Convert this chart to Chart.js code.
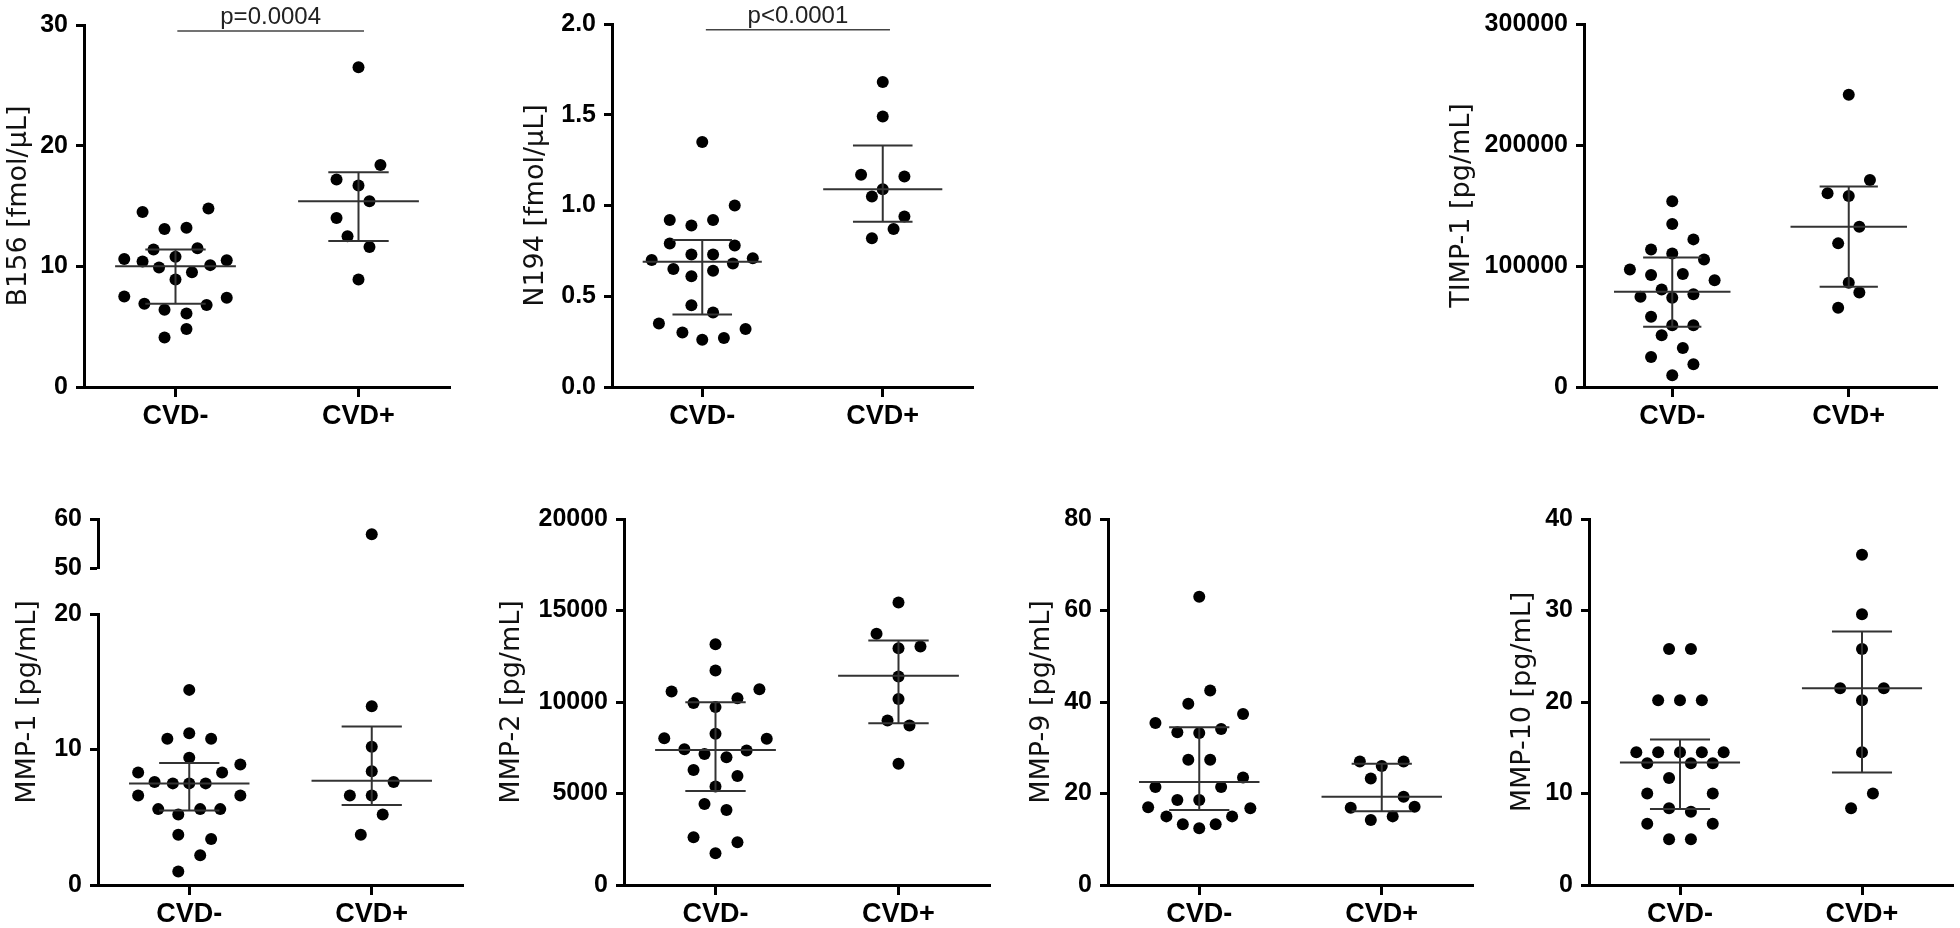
<!DOCTYPE html>
<html lang="en">
<head>
<meta charset="UTF-8">
<title>CVD- vs CVD+ biomarkers</title>
<script src="https://cdn.jsdelivr.net/npm/chart.js@4.4.1/dist/chart.umd.min.js"></script>
<style>
*{margin:0;padding:0;box-sizing:border-box}
html,body{width:1960px;height:928px;background:#fff;overflow:hidden}
canvas{position:absolute}
</style>
</head>
<body>
<canvas id="b156"></canvas>
<canvas id="n194"></canvas>
<canvas id="timp1"></canvas>
<canvas id="mmp1"></canvas>
<canvas id="mmp1top"></canvas>
<canvas id="mmp2"></canvas>
<canvas id="mmp9"></canvas>
<canvas id="mmp10"></canvas>
<script>
const groups = ['CVD-', 'CVD+'];

// each group: values, horizontal jitter (in category units), [median, q1, q3]
const b156Neg = [14.5, 14.8, 13.1, 13.2, 11.4, 11.5, 10.6, 10.4, 10.8, 10.5, 9.9, 10.1, 8.9, 9.5, 7.5, 7.4, 6.9, 6.8, 6.4, 6.1, 4.8, 4.1];
const b156NegJit = [-0.18, 0.18, -0.06, 0.06, -0.12, 0.12, -0.28, -0.18, 0, 0.28, -0.09, 0.19, 0, 0.09, -0.28, 0.28, -0.17, 0.17, -0.06, 0.06, 0.06, -0.06];
const b156Pos = [26.5, 18.4, 17.2, 16.7, 15.4, 14.0, 12.5, 11.6, 8.9];
const b156PosJit = [0, 0.12, -0.12, 0, 0.06, -0.12, -0.06, 0.06, 0];
const b156Stats = [[10.0, 6.9, 11.4], [15.4, 12.1, 17.8]];

const n194Neg = [1.35, 0.92, 0.92, 0.89, 1.00, 0.79, 0.78, 0.73, 0.73, 0.70, 0.71, 0.65, 0.68, 0.61, 0.64, 0.45, 0.41, 0.35, 0.30, 0.26, 0.27, 0.32];
const n194NegJit = [0, -0.18, 0.06, -0.06, 0.18, -0.18, 0.18, -0.06, 0.06, -0.28, 0.28, -0.16, 0.17, -0.06, 0.06, -0.06, 0.06, -0.24, -0.11, 0, 0.12, 0.24];
const n194Pos = [1.68, 1.49, 1.17, 1.16, 1.09, 1.05, 0.94, 0.87, 0.82];
const n194PosJit = [0, 0, -0.12, 0.12, 0, -0.06, 0.12, 0.06, -0.06];
const n194Stats = [[0.69, 0.40, 0.81], [1.09, 0.91, 1.33]];

const timp1Neg = [153500, 134700, 122000, 113700, 110400, 105400, 97200, 92500, 93300, 88300, 80600, 76700, 74500, 73700, 58000, 51100, 51100, 42800, 32300, 24800, 18800, 9700];
const timp1NegJit = [0, 0, 0.12, -0.12, 0, 0.18, -0.24, -0.12, 0.06, 0.24, -0.06, 0.12, -0.18, 0, -0.12, 0, 0.12, -0.06, 0.06, -0.12, 0.12, 0];
const timp1Pos = [241500, 171100, 160100, 157900, 132500, 118700, 86100, 78100, 65400];
const timp1PosJit = [0, 0.12, -0.12, 0, 0.06, -0.06, 0, 0.06, -0.06];
const timp1Stats = [[78700, 49700, 107100], [132500, 82800, 165600]];

const mmp1Neg = [14.4, 10.8, 11.2, 10.8, 9.4, 8.3, 8.9, 8.3, 7.6, 7.5, 7.5, 7.5, 6.6, 6.6, 5.6, 5.2, 5.6, 5.6, 3.7, 3.4, 2.2, 1.0];
const mmp1NegJit = [0, -0.12, 0, 0.12, 0, -0.28, 0.28, 0.18, -0.19, -0.09, 0, 0.09, -0.28, 0.28, -0.17, -0.06, 0.06, 0.17, -0.06, 0.12, 0.06, -0.06];
const mmp1Pos = [56.9, 13.2, 10.2, 8.4, 7.6, 6.6, 6.6, 5.2, 3.7];
const mmp1PosJit = [0, 0, 0, 0, 0.12, -0.12, 0, 0.06, -0.06];
const mmp1Stats = [[7.5, 5.5, 9.0], [7.7, 5.9, 11.7]];

const mmp2Neg = [13150, 11720, 10570, 10700, 9940, 10210, 9720, 8020, 7990, 8260, 7420, 7160, 6980, 7350, 6290, 5960, 5380, 4430, 4100, 2610, 2330, 1730];
const mmp2NegJit = [0, 0, -0.24, 0.24, -0.12, 0.12, 0, -0.28, 0.28, 0, -0.17, -0.06, 0.06, 0.17, -0.12, 0.12, 0, -0.06, 0.06, -0.12, 0.12, 0];
const mmp2Pos = [15440, 13730, 12940, 13030, 11390, 10170, 8990, 8710, 6620];
const mmp2PosJit = [0, -0.12, 0, 0.12, 0, 0, -0.06, 0.06, 0];
const mmp2Stats = [[7380, 5140, 9990], [11430, 8840, 13360]];

const mmp9Neg = [63.0, 42.5, 39.6, 37.4, 35.4, 33.4, 33.2, 34.1, 27.4, 27.4, 23.5, 21.4, 21.4, 18.6, 18.6, 17.0, 16.8, 15.0, 15.0, 13.3, 13.3, 12.4];
const mmp9NegJit = [0, 0.06, -0.06, 0.24, -0.24, -0.12, 0, 0.12, -0.06, 0.06, 0.24, -0.24, 0.12, -0.12, 0, -0.28, 0.28, -0.18, 0.18, -0.09, 0.09, 0];
const mmp9Pos = [27.0, 26.0, 27.0, 23.3, 19.3, 16.9, 17.1, 15.0, 14.2];
const mmp9PosJit = [-0.12, 0, 0.12, -0.06, 0.12, -0.17, 0.18, 0.06, -0.06];
const mmp9Stats = [[22.5, 16.4, 34.5], [19.3, 16.1, 26.5]];

const mmp10Neg = [25.8, 25.8, 20.2, 20.2, 20.2, 14.5, 14.5, 14.5, 14.5, 14.5, 13.3, 13.3, 13.3, 11.7, 10.0, 10.0, 8.4, 8.0, 6.7, 6.7, 5.0, 5.0];
const mmp10NegJit = [-0.06, 0.06, -0.12, 0, 0.12, -0.24, -0.12, 0, 0.12, 0.24, -0.18, 0.06, 0.18, -0.06, -0.18, 0.18, -0.06, 0.06, -0.18, 0.18, -0.06, 0.06];
const mmp10Pos = [36.1, 29.6, 25.8, 21.5, 21.5, 20.2, 14.5, 10.0, 8.4];
const mmp10PosJit = [0, 0, 0, -0.12, 0.12, 0, 0, 0.06, -0.06];
const mmp10Stats = [[13.4, 8.3, 15.9], [21.5, 12.3, 27.7]];

const FONT = "'Liberation Sans', Arial, Helvetica, sans-serif";
const TITLE_FONT = "'DejaVu Sans', sans-serif";
const TITLE_SIZE = 27;

// significance bar + p-value label above the two groups
const sigBar = {
  id: 'sigBar',
  afterDatasetsDraw(chart, args, o) {
    if (!o || !o.text) return;
    const { ctx, scales: { x, y } } = chart;
    const x1 = x.getPixelForValue(o.from), x2 = x.getPixelForValue(o.to), yy = y.getPixelForValue(o.at);
    ctx.save();
    ctx.strokeStyle = '#444';
    ctx.lineWidth = 1.5;
    ctx.beginPath(); ctx.moveTo(x1, yy); ctx.lineTo(x2, yy); ctx.stroke();
    ctx.fillStyle = '#222';
    ctx.font = '24px ' + FONT;
    ctx.textAlign = 'center';
    ctx.textBaseline = 'alphabetic';
    ctx.fillText(o.text, (x1 + x2) / 2, yy - 7);
    ctx.restore();
  }
};

// y title for the broken MMP-1 axis, centred over both segments
const brokenTitle = {
  id: 'brokenTitle',
  afterDraw(chart, args, o) {
    if (!o || !o.text) return;
    const { ctx, chartArea } = chart;
    ctx.save();
    ctx.translate(o.x, (o.top + chartArea.bottom) / 2);
    ctx.rotate(-Math.PI / 2);
    ctx.font = TITLE_SIZE + 'px ' + TITLE_FONT;
    ctx.fillStyle = '#111';
    ctx.textAlign = 'center';
    ctx.textBaseline = 'middle';
    ctx.fillText(o.text, 0, 0);
    ctx.restore();
  }
};

function dots(vals, jit, g, keep) {
  return {
    type: 'scatter',
    data: vals.map((v, i) => ({ x: g + 1 + jit[i], y: v })).filter(p => !keep || keep(p.y)),
    backgroundColor: '#000', borderWidth: 0, pointRadius: 6, pointHoverRadius: 6,
    clip: false, order: 2
  };
}

function statLines(stats) {
  const sets = [];
  stats.forEach(([med, q1, q3], g) => {
    const c = g + 1;
    [
      [[c - 0.33, med], [c + 0.33, med]],
      [[c, q1], [c, q3]],
      [[c - 0.165, q1], [c + 0.165, q1]],
      [[c - 0.165, q3], [c + 0.165, q3]]
    ].forEach(seg => sets.push({
      type: 'line', data: seg.map(([x, y]) => ({ x, y })),
      borderColor: '#333', borderWidth: 2, pointRadius: 0, fill: false, order: 0
    }));
  });
  return sets;
}

function drawPanel(o) {
  const cv = document.getElementById(o.id);
  const cl = o.tx - 16, cw = o.r + (o.padR || 8) - cl;
  cv.width = cw; cv.height = o.ch;
  cv.style.left = cl + 'px'; cv.style.top = o.ct + 'px';
  const yW = o.l - cl;
  const xH = o.ct + o.ch - o.b;
  new Chart(cv, {
    type: 'scatter',
    data: { datasets: o.datasets },
    options: {
      responsive: false,
      animation: false,
      events: [],
      layout: { padding: { left: 0, top: o.t - o.ct, right: cl + cw - o.r, bottom: o.showX ? 0 : xH } },
      plugins: {
        legend: { display: false },
        tooltip: { enabled: false },
        sigBar: o.sig || false,
        brokenTitle: o.broken || false
      },
      scales: {
        x: {
          type: 'linear', min: 0.5, max: 2.5, display: o.showX,
          afterBuildTicks: s => { s.ticks = groups.map((g, i) => ({ value: i + 1 })); },
          afterFit: s => { s.height = xH; },
          ticks: { callback: v => groups[v - 1], color: '#000', font: { family: FONT, size: 27, weight: 'bold' }, padding: 3, maxRotation: 0, autoSkip: false },
          grid: { display: true, drawOnChartArea: false, drawTicks: true, tickLength: 10, tickWidth: 3, tickColor: '#000' },
          border: { display: true, width: 3, color: '#000' }
        },
        y: {
          type: 'linear', min: o.yMin, max: o.yMax,
          afterFit: s => { s.width = yW; },
          ticks: { stepSize: o.step, callback: v => v.toFixed(o.dec || 0), color: '#000', font: { family: FONT, size: 25, weight: 'bold' }, padding: 8 },
          grid: { display: true, drawOnChartArea: false, drawTicks: true, tickLength: 8, tickWidth: 3, tickColor: '#000' },
          border: { display: true, width: 3, color: '#000' },
          title: { display: !!o.title, text: o.title, color: '#111', padding: 0, font: { family: TITLE_FONT, size: TITLE_SIZE, lineHeight: 1.2 } }
        }
      }
    },
    plugins: [sigBar, brokenTitle]
  });
}

function groupSets(neg, negJit, pos, posJit, stats, keep) {
  return [dots(neg, negJit, 0, keep), dots(pos, posJit, 1, keep), ...statLines(stats)];
}

// top row
drawPanel({ id: 'b156', tx: 19, l: 84, t: 25, r: 450, b: 387, ct: 0, ch: 437, showX: true,
  yMin: 0, yMax: 30, step: 10, title: 'B156 [fmol/µL]',
  datasets: groupSets(b156Neg, b156NegJit, b156Pos, b156PosJit, b156Stats),
  sig: { text: 'p=0.0004', from: 1.01, to: 2.03, at: 29.5 } });

drawPanel({ id: 'n194', tx: 536, l: 612, t: 24, r: 973, b: 387, ct: 0, ch: 437, showX: true,
  yMin: 0, yMax: 2, step: 0.5, dec: 1, title: 'N194 [fmol/µL]',
  datasets: groupSets(n194Neg, n194NegJit, n194Pos, n194PosJit, n194Stats),
  sig: { text: 'p<0.0001', from: 1.02, to: 2.04, at: 1.969 } });

drawPanel({ id: 'timp1', tx: 1462, l: 1584, t: 24, r: 1937, b: 387, ct: 0, ch: 437, showX: true,
  yMin: 0, yMax: 300000, step: 100000, title: 'TIMP-1 [pg/mL]',
  datasets: groupSets(timp1Neg, timp1NegJit, timp1Pos, timp1PosJit, timp1Stats) });

// bottom row; MMP-1 has a broken axis (0-20 and 50-60)
drawPanel({ id: 'mmp1', tx: 28, l: 98, t: 614, r: 463, b: 885, ct: 480, ch: 448, showX: true,
  yMin: 0, yMax: 20, step: 10, title: '',
  datasets: groupSets(mmp1Neg, mmp1NegJit, mmp1Pos, mmp1PosJit, mmp1Stats, v => v <= 20),
  broken: { text: 'MMP-1 [pg/mL]', x: 16, top: 39 } });

drawPanel({ id: 'mmp1top', tx: 28, l: 98, t: 519, r: 463, b: 588, ct: 480, ch: 128, showX: false,
  yMin: 50, yMax: 60, step: 10, title: '',
  datasets: [dots(mmp1Neg, mmp1NegJit, 0, v => v >= 50), dots(mmp1Pos, mmp1PosJit, 1, v => v >= 50)] });

drawPanel({ id: 'mmp2', tx: 512, l: 624, t: 519, r: 990, b: 885, ct: 480, ch: 448, showX: true,
  yMin: 0, yMax: 20000, step: 5000, title: 'MMP-2 [pg/mL]',
  datasets: groupSets(mmp2Neg, mmp2NegJit, mmp2Pos, mmp2PosJit, mmp2Stats) });

drawPanel({ id: 'mmp9', tx: 1042, l: 1108, t: 519, r: 1473, b: 885, ct: 480, ch: 448, showX: true,
  yMin: 0, yMax: 80, step: 20, title: 'MMP-9 [pg/mL]',
  datasets: groupSets(mmp9Neg, mmp9NegJit, mmp9Pos, mmp9PosJit, mmp9Stats) });

drawPanel({ id: 'mmp10', tx: 1523, l: 1589, t: 519, r: 1955, b: 885, ct: 480, ch: 448, showX: true, padR: 4,
  yMin: 0, yMax: 40, step: 10, title: 'MMP-10 [pg/mL]',
  datasets: groupSets(mmp10Neg, mmp10NegJit, mmp10Pos, mmp10PosJit, mmp10Stats) });
</script>
</body>
</html>
